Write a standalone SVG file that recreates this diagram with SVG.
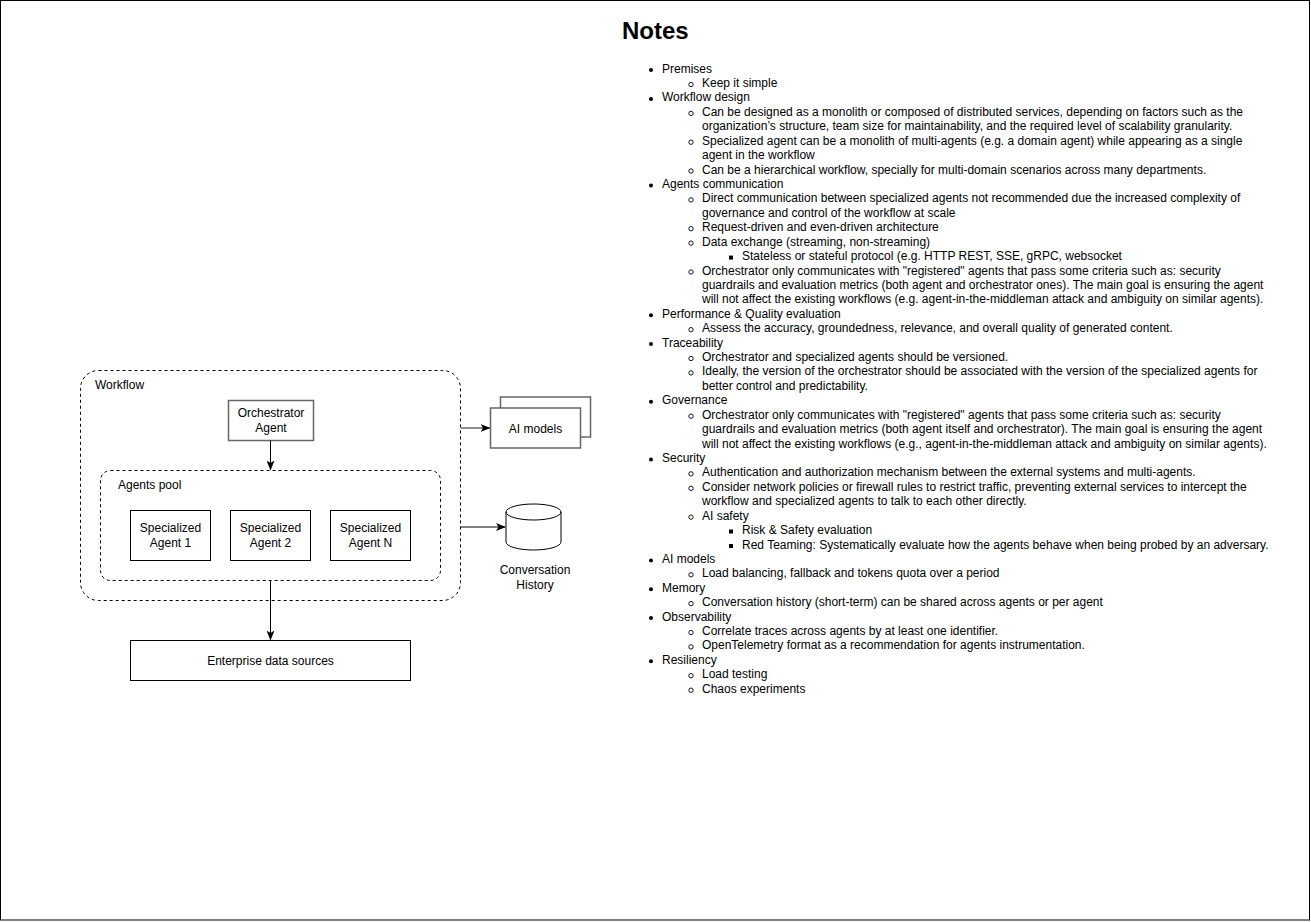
<svg xmlns="http://www.w3.org/2000/svg" width="1311" height="922" viewBox="0 0 1311 922">
<style>
text{font-family:"Liberation Sans",Arial,Helvetica,sans-serif;font-size:12px;fill:#000}
.c{text-anchor:middle}
.box{fill:#fff;stroke:#000;stroke-width:1}
.gbox{fill:#fff;stroke:#666;stroke-width:1.5}
.dash{fill:none;stroke:#000;stroke-width:1;stroke-dasharray:3 3}
.edge{fill:none;stroke:#000;stroke-width:1}
.gedge{fill:none;stroke:#666;stroke-width:1.5}
.title{font-size:24px;font-weight:bold}
</style>
<defs>
<marker id="arr" markerUnits="userSpaceOnUse" viewBox="0 0 10 8" refX="9" refY="4" markerWidth="10" markerHeight="8" orient="auto">
<path d="M0,0 L10,4 L0,8 L2.5,4 z" fill="#000"/>
</marker>
<circle id="disc" r="2" fill="#000"/>
<circle id="ring" r="2.2" fill="none" stroke="#000" stroke-width="0.9"/>
<rect id="sq" x="-2" y="-2" width="4" height="4" fill="#000"/>
</defs>
<rect x="0.5" y="0.5" width="1309" height="919.5" fill="#fff" stroke="#000" stroke-width="1"/>

<g id="workflow">
<rect class="dash" x="80.5" y="370.5" width="380" height="230" rx="18"/>
<text x="95" y="389">Workflow</text>
</g>
<g id="orchestrator">
<rect class="gbox" x="228.5" y="400.5" width="85" height="40"/>
<text class="c" x="271" y="417">Orchestrator</text>
<text class="c" x="271" y="432">Agent</text>
</g>
<g id="agents-pool">
<rect class="dash" x="100.5" y="470.5" width="340" height="110" rx="10"/>
<text x="118" y="489">Agents pool</text>
</g>
<g id="agent1">
<rect class="box" x="130.5" y="510.5" width="80" height="50"/>
<text class="c" x="170.5" y="531.5">Specialized</text>
<text class="c" x="170.5" y="547">Agent 1</text>
</g>
<g id="agent2">
<rect class="box" x="230.5" y="510.5" width="80" height="50"/>
<text class="c" x="270.5" y="531.5">Specialized</text>
<text class="c" x="270.5" y="547">Agent 2</text>
</g>
<g id="agentN">
<rect class="box" x="330.5" y="510.5" width="80" height="50"/>
<text class="c" x="370.5" y="531.5">Specialized</text>
<text class="c" x="370.5" y="547">Agent N</text>
</g>
<g id="enterprise">
<rect class="box" x="130.5" y="640.5" width="280" height="40"/>
<text class="c" x="270.5" y="664.5">Enterprise data sources</text>
</g>
<g id="ai-models">
<rect class="gbox" x="500.5" y="397" width="90" height="40"/>
<rect class="gbox" x="490.5" y="408" width="90" height="40"/>
<text class="c" x="535.5" y="432.5">AI models</text>
</g>
<g id="conversation-history">
<path class="box" d="M506,512 a27.5,8 0 0 1 55,0 v30 a27.5,8 0 0 1 -55,0 z"/>
<path class="edge" d="M506,512 a27.5,8 0 0 0 55,0"/>
<text class="c" x="535" y="574">Conversation</text>
<text class="c" x="535" y="589">History</text>
</g>
<g id="connectors">
<path class="edge" d="M270.5,440.5 V469.5" marker-end="url(#arr)"/>
<path class="edge" d="M270.5,580.5 V639.5" marker-end="url(#arr)"/>
<path class="gedge" d="M460.5,428 H489.5" marker-end="url(#arr)"/>
<path class="edge" d="M460.5,527 H505" marker-end="url(#arr)"/>
</g>

<g id="notes">
<text class="title" x="622" y="39">Notes</text>
<g id="bullets">
<use href="#disc" x="651" y="70"/>
<use href="#ring" x="691" y="84.5"/>
<use href="#disc" x="651" y="98.9"/>
<use href="#ring" x="691" y="113.4"/>
<use href="#ring" x="691" y="142.2"/>
<use href="#ring" x="691" y="171"/>
<use href="#disc" x="651" y="185.5"/>
<use href="#ring" x="691" y="199.9"/>
<use href="#ring" x="691" y="228.7"/>
<use href="#ring" x="691" y="243.1"/>
<use href="#sq" x="731" y="257.6"/>
<use href="#ring" x="691" y="272"/>
<use href="#disc" x="651" y="315.2"/>
<use href="#ring" x="691" y="329.7"/>
<use href="#disc" x="651" y="344.1"/>
<use href="#ring" x="691" y="358.5"/>
<use href="#ring" x="691" y="372.9"/>
<use href="#disc" x="651" y="401.8"/>
<use href="#ring" x="691" y="416.2"/>
<use href="#disc" x="651" y="459.4"/>
<use href="#ring" x="691" y="473.9"/>
<use href="#ring" x="691" y="488.3"/>
<use href="#ring" x="691" y="517.1"/>
<use href="#sq" x="731" y="531.5"/>
<use href="#sq" x="731" y="546"/>
<use href="#disc" x="651" y="560.4"/>
<use href="#ring" x="691" y="574.8"/>
<use href="#disc" x="651" y="589.2"/>
<use href="#ring" x="691" y="603.6"/>
<use href="#disc" x="651" y="618.1"/>
<use href="#ring" x="691" y="632.5"/>
<use href="#ring" x="691" y="646.9"/>
<use href="#disc" x="651" y="661.3"/>
<use href="#ring" x="691" y="675.7"/>
<use href="#ring" x="691" y="690.2"/>
</g>
<text>
<tspan x="662" y="72.6">Premises</tspan>
<tspan x="702" y="87.0">Keep it simple</tspan>
<tspan x="662" y="101.4">Workflow design</tspan>
<tspan x="702" y="115.9">Can be designed as a monolith or composed of distributed services, depending on factors such as the</tspan>
<tspan x="702" y="130.3">organization’s structure, team size for maintainability, and the required level of scalability granularity.</tspan>
<tspan x="702" y="144.7">Specialized agent can be a monolith of multi-agents (e.g. a domain agent) while appearing as a single</tspan>
<tspan x="702" y="159.1">agent in the workflow</tspan>
<tspan x="702" y="173.5">Can be a hierarchical workflow, specially for multi-domain scenarios across many departments.</tspan>
<tspan x="662" y="188.0">Agents communication</tspan>
<tspan x="702" y="202.4">Direct communication between specialized agents not recommended due the increased complexity of</tspan>
<tspan x="702" y="216.8">governance and control of the workflow at scale</tspan>
<tspan x="702" y="231.2">Request-driven and even-driven architecture</tspan>
<tspan x="702" y="245.6">Data exchange (streaming, non-streaming)</tspan>
<tspan x="742" y="260.1">Stateless or stateful protocol (e.g. HTTP REST, SSE, gRPC, websocket</tspan>
<tspan x="702" y="274.5">Orchestrator only communicates with "registered" agents that pass some criteria such as: security</tspan>
<tspan x="702" y="288.9">guardrails and evaluation metrics (both agent and orchestrator ones). The main goal is ensuring the agent</tspan>
<tspan x="702" y="303.3">will not affect the existing workflows (e.g. agent-in-the-middleman attack and ambiguity on similar agents).</tspan>
<tspan x="662" y="317.7">Performance &amp; Quality evaluation</tspan>
<tspan x="702" y="332.2">Assess the accuracy, groundedness, relevance, and overall quality of generated content.</tspan>
<tspan x="662" y="346.6">Traceability</tspan>
<tspan x="702" y="361.0">Orchestrator and specialized agents should be versioned.</tspan>
<tspan x="702" y="375.4">Ideally, the version of the orchestrator should be associated with the version of the specialized agents for</tspan>
<tspan x="702" y="389.8">better control and predictability.</tspan>
<tspan x="662" y="404.3">Governance</tspan>
<tspan x="702" y="418.7">Orchestrator only communicates with "registered" agents that pass some criteria such as: security</tspan>
<tspan x="702" y="433.1">guardrails and evaluation metrics (both agent itself and orchestrator). The main goal is ensuring the agent</tspan>
<tspan x="702" y="447.5">will not affect the existing workflows (e.g., agent-in-the-middleman attack and ambiguity on similar agents).</tspan>
<tspan x="662" y="461.9">Security</tspan>
<tspan x="702" y="476.4">Authentication and authorization mechanism between the external systems and multi-agents.</tspan>
<tspan x="702" y="490.8">Consider network policies or firewall rules to restrict traffic, preventing external services to intercept the</tspan>
<tspan x="702" y="505.2">workflow and specialized agents to talk to each other directly.</tspan>
<tspan x="702" y="519.6">AI safety</tspan>
<tspan x="742" y="534.0">Risk &amp; Safety evaluation</tspan>
<tspan x="742" y="548.5">Red Teaming: Systematically evaluate how the agents behave when being probed by an adversary.</tspan>
<tspan x="662" y="562.9">AI models</tspan>
<tspan x="702" y="577.3">Load balancing, fallback and tokens quota over a period</tspan>
<tspan x="662" y="591.7">Memory</tspan>
<tspan x="702" y="606.1">Conversation history (short-term) can be shared across agents or per agent</tspan>
<tspan x="662" y="620.6">Observability</tspan>
<tspan x="702" y="635.0">Correlate traces across agents by at least one identifier.</tspan>
<tspan x="702" y="649.4">OpenTelemetry format as a recommendation for agents instrumentation.</tspan>
<tspan x="662" y="663.8">Resiliency</tspan>
<tspan x="702" y="678.2">Load testing</tspan>
<tspan x="702" y="692.7">Chaos experiments</tspan>
</text>
</g>
</svg>
